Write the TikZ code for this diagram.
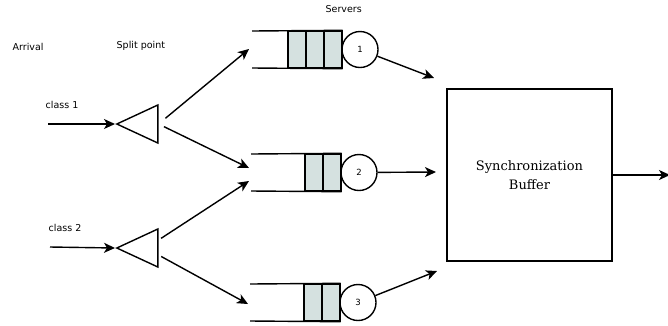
\documentclass[tikz,border=0pt]{standalone}
\usepackage{fontspec}
\newfontfamily\notefont{DejaVu Sans}
\newfontfamily\boxfont{DejaVu Serif}
\usetikzlibrary{arrows.meta,shapes.geometric}
\definecolor{cellfill}{RGB}{213,225,224}
\begin{document}
\begin{tikzpicture}[x=1pt,y=-1pt,line width=1.4pt,
    note/.style ={font=\notefont\fontsize{9.5}{11}\selectfont, anchor=west, inner sep=0},
    cell/.style ={rectangle, draw, fill=cellfill, minimum width=18, minimum height=37, inner sep=0},
    server/.style ={circle, draw, minimum size=36, inner sep=0, font=\notefont\fontsize{8.5}{9}\selectfont},
    splitter/.style ={isosceles triangle, isosceles triangle stretches, shape border rotate=180, draw, minimum width=38, minimum height=41, inner sep=0, anchor=apex},
    flow/.style ={-{Stealth[length=11pt,width=10pt,inset=3pt]}}]
   \useasboundingbox (0,0) rectangle (668,325);

   % texts
   \node[note] (arrival) at (12,47) {Arrival};
   \node[note] (split)   at (116,46) {Split point};
   \node[note] (servers) at (325,9) {Servers};
   \node[note] (cls1)    at (45,105) {class 1};
   \node[note] (cls2)    at (48,228) {class 2};

   % split points
   \node[splitter] (T1) at (115,124) {};
   \node[splitter] (T2) at (115,248) {};
   \coordinate (A1) at (48,124);
   \coordinate (A2) at (50,247);

   % queues
   \node[cell] (C11) at (297,49.5) {};
   \node[cell] (C12) at (315,49.5) {};
   \node[cell] (C13) at (333,49.5) {};
   \node[cell] (C21) at (314,172.5) {};
   \node[cell] (C22) at (332,172.5) {};
   \node[cell] (C31) at (313,302.5) {};
   \node[cell] (C32) at (331,302.5) {};
   \coordinate (Q1a) at (252,31);
   \coordinate (Q1b) at (252,68);
   \coordinate (Q2a) at (251,154);
   \coordinate (Q2b) at (251,191);
   \coordinate (Q3a) at (250,284);
   \coordinate (Q3b) at (250,321);
   \draw (Q1a) -- (C13.north east);
   \draw (Q1b) -- (C13.south east);
   \draw (Q2a) -- (C22.north east);
   \draw (Q2b) -- (C22.south east);
   \draw (Q3a) -- (C32.north east);
   \draw (Q3b) -- (C32.south east);

   % servers
   \node[server] (S1) at (360,49.5) {1};
   \node[server] (S2) at (359,172.5) {2};
   \node[server] (S3) at (358,302.5) {3};

   % buffer
   \node[draw, minimum width=165, minimum height=172, inner sep=0, align=center,
         font=\boxfont\fontsize{13}{19}\selectfont] (buffer) at (529.5,175) {Synchronization\\Buffer};
   \coordinate (B1) at (434,78);
   \coordinate (B2) at (436,172);
   \coordinate (B3) at (437,271);
   \coordinate (E1) at (249,49);
   \coordinate (E2) at (249,168);
   \coordinate (E3) at (249,181);
   \coordinate (E4) at (248,304);
   \coordinate (out) at (670,175);

   \draw[flow] (A1) to (T1.apex);
   \draw[flow] (A2) to (T2.apex);
   \draw[flow,shorten <=9pt] (T1.east) to (E1);
   \draw[flow,shorten <=6pt] (T1.east) to (E2);
   \draw[flow,shorten <=3pt] ([yshift=8pt]T2.east) to (E3);
   \draw[flow,shorten <=3pt] ([yshift=-7pt]T2.east) to (E4);
   \draw[flow] (S1) to (B1);
   \draw[flow] (S2) to (B2);
   \draw[flow] (S3) to (B3);
   \draw[flow] (buffer.east) to (out);
 \end{tikzpicture}
\end{document}
